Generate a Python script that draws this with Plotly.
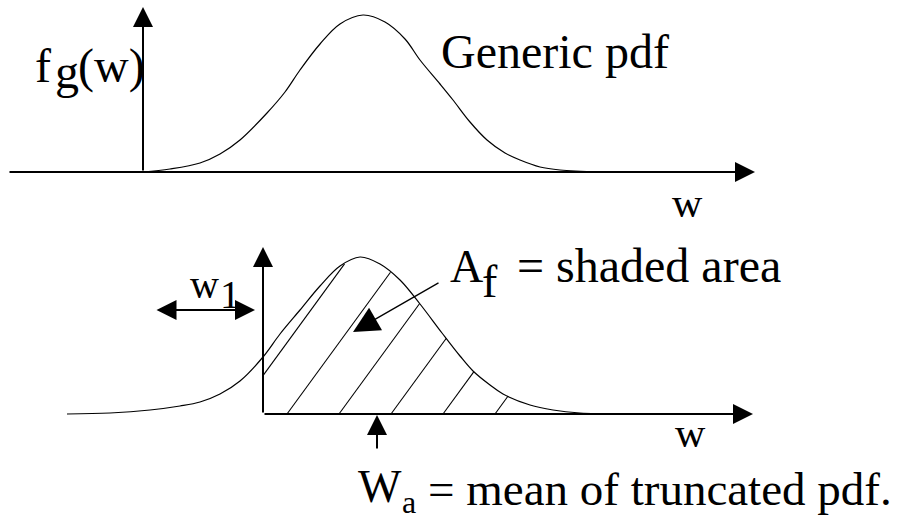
import numpy as np
import plotly.graph_objects as go

# Canvas is laid out in pixel-like units, y pointing up (0 = bottom edge).
W, H = 900, 529

# Generic pdf (top panel): w position and height above the axis
TOP_W = [143, 170, 200, 220, 240, 267, 285, 300, 320, 340, 363, 385, 405,
         420, 440, 453, 470, 487, 505, 520, 540, 560, 600]
TOP_F = [0, 3, 9, 18, 32, 59, 80, 102, 128, 148, 157, 150, 133,
         112, 88, 72, 50, 32, 19, 12, 5, 2, 0]

# Same pdf shifted (bottom panel), truncated at the vertical axis
BOT_W = [67, 110, 150, 180, 200, 220, 240, 263, 280, 300, 320, 340, 360,
         380, 400, 420, 442, 460, 473, 490, 503, 530, 553, 580, 620]
BOT_F = [0, 1, 4, 8, 12, 20, 33, 57, 80, 104, 128, 148, 157,
         150, 134, 110, 81, 58, 43, 29, 20, 9, 4, 1, 0]

TOP_BASE = H - 172
BOT_BASE = H - 414
TOP_ORIGIN = 143
BOT_ORIGIN = 263   # truncation point, w1 to the right of the left tail

# hatching of the shaded area
HATCH_SLOPE = 1.37
HATCH_GAP = 52
HATCH_FIRST = 235
HATCH_LAST = 520

fig = go.Figure()

fig.add_trace(go.Scatter(
    x=TOP_W, y=[TOP_BASE + f for f in TOP_F],
    mode="lines", line=dict(color="black", width=1.2, shape="spline"),
    hoverinfo="skip",
))

# hatch lines: run up from the baseline until they meet the curve
grid_w = np.linspace(BOT_ORIGIN, BOT_W[-1], 3000)
grid_f = np.interp(grid_w, BOT_W, BOT_F)
hx, hy = [], []
for x0 in np.arange(HATCH_FIRST, HATCH_LAST, HATCH_GAP):
    start = max(x0, BOT_ORIGIN)
    line_f = (grid_w - x0) * HATCH_SLOPE
    hit = (grid_w > start) & (line_f >= grid_f)
    if not hit.any():
        continue
    i = int(np.argmax(hit))
    hx += [start, grid_w[i], None]
    hy += [BOT_BASE + (start - x0) * HATCH_SLOPE, BOT_BASE + line_f[i], None]

fig.add_trace(go.Scatter(
    x=hx, y=hy, mode="lines", line=dict(color="black", width=1.1),
    hoverinfo="skip",
))

fig.add_trace(go.Scatter(
    x=BOT_W, y=[BOT_BASE + f for f in BOT_F],
    mode="lines", line=dict(color="black", width=1.2, shape="spline"),
    hoverinfo="skip",
))


def arrow(x0, y0, x1, y1, width=2, size=2, both=False):
    # pixel coords (y down) -> canvas coords
    fig.add_annotation(
        x=x1, y=H - y1, ax=x0, ay=H - y0,
        xref="x", yref="y", axref="x", ayref="y",
        text="", showarrow=True, arrowhead=2, arrowsize=size,
        arrowwidth=width, arrowcolor="black",
        arrowside="end+start" if both else "end", startarrowhead=2,
        startarrowsize=size, standoff=0, startstandoff=0,
    )


def label(text, x_left, baseline, size):
    fig.add_annotation(
        x=x_left, y=H - (baseline - 0.34 * size), xref="x", yref="y",
        text=text, showarrow=False, xanchor="left", yanchor="middle",
        font=dict(family="Liberation Serif", size=size, color="black"),
        borderpad=0,
    )


# axes of the two panels
arrow(8, 172, 755, 172)
arrow(TOP_ORIGIN, 172, TOP_ORIGIN, 7)
arrow(BOT_ORIGIN, 414, 753, 414)
arrow(BOT_ORIGIN, 414, BOT_ORIGIN, 247)

# w1 offset, area pointer, mean marker
arrow(155, 310, 255, 310, both=True)
arrow(440, 282, 353, 332, width=1.3, size=4)
arrow(377, 450, 377, 415)

label("f", 34, 82, 48)
label("g", 54, 88, 48)
label("(w)", 77, 82, 48)
label("Generic pdf", 440, 68, 48)
label("w", 671, 217, 42)

label("w", 189, 298, 40)
label("1", 219, 308, 40)
label("A", 449, 282, 46)
label("f", 481, 297, 46)
label("= shaded area", 516, 282, 48)
label("w", 674, 447, 42)

label("W", 357, 502, 46)
label("a", 401, 513, 32)
label("= mean of truncated pdf.", 427, 505, 47)

fig.update_layout(
    width=W, height=H,
    margin=dict(l=0, r=0, t=0, b=0),
    paper_bgcolor="white", plot_bgcolor="white",
    showlegend=False,
    xaxis=dict(range=[0, W], visible=False, fixedrange=True),
    yaxis=dict(range=[0, H], visible=False, fixedrange=True),
)

# drop the page's default body margin so the 900x529 figure fills the window
fig.write_html("out.html", config={"displayModeBar": False},
               post_script="document.body.style.margin = '0';")
